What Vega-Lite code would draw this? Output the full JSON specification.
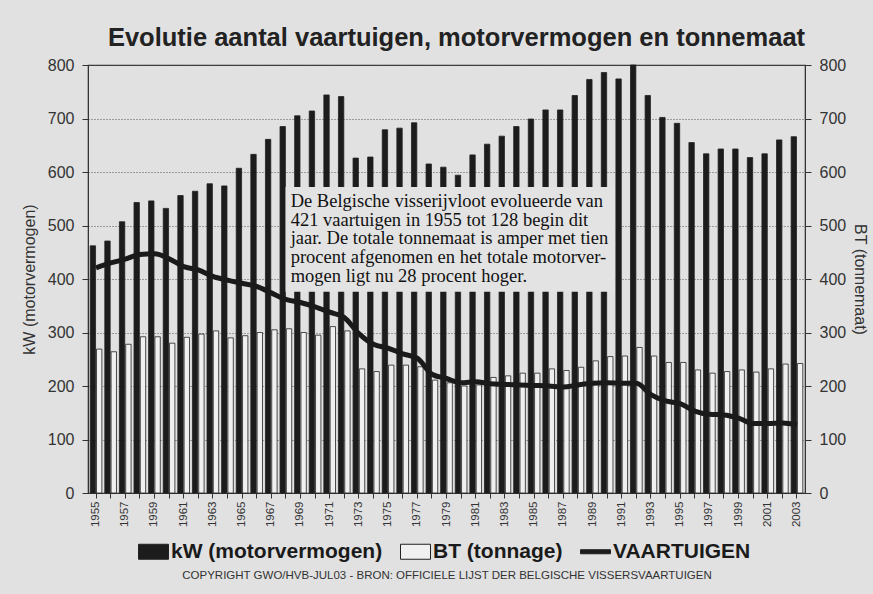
{
  "$schema": "https://vega.github.io/schema/vega-lite/v6.json",
  "autosize": {"type": "none"},
  "padding": {"left": 88, "top": 65, "right": 68, "bottom": 101},
  "width": 717,
  "height": 428,
  "background": "#e1e1e1",
  "title": {
    "text": "Evolutie aantal vaartuigen, motorvermogen en tonnemaat",
    "font": "Liberation Sans",
    "fontSize": 25.5,
    "fontWeight": "bold",
    "color": "#222222",
    "anchor": "middle",
    "offset": 6,
    "dx": 10
  },
  "config": {
    "view": {"stroke": "#333333", "strokeWidth": 1.2},
    "font": "Liberation Sans",
    "legend": {"layout": {"bottom": {"anchor": "middle"}}}
  },
  "datasets": {
    "fleet": [
      {"year": 1955, "kW": 462, "BT": 269, "vessels": 421},
      {"year": 1956, "kW": 471, "BT": 264, "vessels": 430},
      {"year": 1957, "kW": 507, "BT": 278, "vessels": 437},
      {"year": 1958, "kW": 543, "BT": 292, "vessels": 446},
      {"year": 1959, "kW": 546, "BT": 292, "vessels": 447},
      {"year": 1960, "kW": 532, "BT": 280, "vessels": 438},
      {"year": 1961, "kW": 556, "BT": 291, "vessels": 423},
      {"year": 1962, "kW": 564, "BT": 297, "vessels": 417},
      {"year": 1963, "kW": 578, "BT": 303, "vessels": 405},
      {"year": 1964, "kW": 574, "BT": 290, "vessels": 398},
      {"year": 1965, "kW": 607, "BT": 294, "vessels": 392},
      {"year": 1966, "kW": 633, "BT": 300, "vessels": 386},
      {"year": 1967, "kW": 661, "BT": 305, "vessels": 374},
      {"year": 1968, "kW": 685, "BT": 307, "vessels": 362},
      {"year": 1969, "kW": 705, "BT": 300, "vessels": 356},
      {"year": 1970, "kW": 714, "BT": 295, "vessels": 348},
      {"year": 1971, "kW": 744, "BT": 311, "vessels": 338},
      {"year": 1972, "kW": 741, "BT": 303, "vessels": 328},
      {"year": 1973, "kW": 626, "BT": 232, "vessels": 298},
      {"year": 1974, "kW": 628, "BT": 227, "vessels": 278},
      {"year": 1975, "kW": 679, "BT": 239, "vessels": 271},
      {"year": 1976, "kW": 682, "BT": 239, "vessels": 260},
      {"year": 1977, "kW": 692, "BT": 236, "vessels": 252},
      {"year": 1978, "kW": 615, "BT": 211, "vessels": 222},
      {"year": 1979, "kW": 609, "BT": 206, "vessels": 214},
      {"year": 1980, "kW": 594, "BT": 200, "vessels": 206},
      {"year": 1981, "kW": 632, "BT": 202, "vessels": 208},
      {"year": 1982, "kW": 652, "BT": 216, "vessels": 204},
      {"year": 1983, "kW": 667, "BT": 219, "vessels": 203},
      {"year": 1984, "kW": 685, "BT": 224, "vessels": 202},
      {"year": 1985, "kW": 699, "BT": 224, "vessels": 201},
      {"year": 1986, "kW": 716, "BT": 232, "vessels": 200},
      {"year": 1987, "kW": 716, "BT": 229, "vessels": 198},
      {"year": 1988, "kW": 743, "BT": 235, "vessels": 202},
      {"year": 1989, "kW": 773, "BT": 247, "vessels": 205},
      {"year": 1990, "kW": 786, "BT": 255, "vessels": 206},
      {"year": 1991, "kW": 774, "BT": 256, "vessels": 205},
      {"year": 1992, "kW": 800, "BT": 272, "vessels": 205},
      {"year": 1993, "kW": 743, "BT": 256, "vessels": 184},
      {"year": 1994, "kW": 702, "BT": 244, "vessels": 172},
      {"year": 1995, "kW": 691, "BT": 244, "vessels": 167},
      {"year": 1996, "kW": 655, "BT": 230, "vessels": 153},
      {"year": 1997, "kW": 634, "BT": 224, "vessels": 147},
      {"year": 1998, "kW": 643, "BT": 227, "vessels": 146},
      {"year": 1999, "kW": 643, "BT": 230, "vessels": 140},
      {"year": 2000, "kW": 627, "BT": 226, "vessels": 130},
      {"year": 2001, "kW": 634, "BT": 232, "vessels": 130},
      {"year": 2002, "kW": 660, "BT": 241, "vessels": 131},
      {"year": 2003, "kW": 666, "BT": 242, "vessels": 128}
    ],
    "note": [
      {"x0": 13.5, "x1": 36.0, "y0": 376, "y1": 572, "tx": 13.85, "ty": 563,
       "text": ["De Belgische visserijvloot evolueerde van", "421 vaartuigen in 1955 tot 128 begin dit", "jaar. De totale tonnemaat is amper met tien", "procent afgenomen en het totale motorver-", "mogen ligt nu 28 procent hoger."]}
    ]
  },
  "layer": [
    {
      "data": {"name": "fleet"},
      "transform": [{"fold": ["kW", "BT"], "as": ["series", "value"]}],
      "mark": {"type": "bar", "stroke": "#222222", "strokeWidth": 0.8},
      "encoding": {
        "x": {
          "field": "year",
          "type": "ordinal",
          "scale": {"type": "band", "paddingInner": 0.2, "paddingOuter": 0.15},
          "axis": {
            "title": null,
            "labelAngle": -90,
            "labelFontSize": 11.5,
            "labelColor": "#333333",
            "labelPadding": 3,
            "tickSize": 5,
            "tickColor": "#333333",
            "domainColor": "#333333",
            "labelExpr": "datum.value % 2 == 1 ? datum.label : ''",
            "grid": false
          }
        },
        "xOffset": {"field": "series", "scale": {"domain": ["kW", "BT"], "paddingInner": 0.15}},
        "y": {
          "field": "value",
          "type": "quantitative",
          "scale": {"domain": [0, 800]},
          "axis": {
            "title": "kW (motorvermogen)",
            "titleFontSize": 16,
            "titleFontWeight": "normal",
            "titleColor": "#333333",
            "titlePadding": 10,
            "labelFontSize": 16,
            "labelColor": "#333333",
            "labelPadding": 8,
            "tickSize": 6,
            "tickColor": "#333333",
            "domainColor": "#333333",
            "values": [0, 100, 200, 300, 400, 500, 600, 700, 800],
            "grid": true,
            "gridDash": [1, 2],
            "gridColor": "#555555",
            "gridWidth": 1
          }
        },
        "fill": {
          "field": "series",
          "type": "nominal",
          "scale": {"domain": ["kW", "BT", "VAARTUIGEN"], "range": ["#1c1c1c", "#f0f0f0", "#1c1c1c"]},
          "legend": {
            "orient": "bottom",
            "direction": "horizontal",
            "title": "COPYRIGHT GWO/HVB-JUL03  -  BRON: OFFICIELE LIJST DER BELGISCHE VISSERSVAARTUIGEN",
            "titleOrient": "bottom",
            "titleAnchor": "middle",
            "titleFontSize": 11.5,
            "titleFontWeight": "normal",
            "titleColor": "#333333",
            "titlePadding": 8,
            "titleLimit": 1000,
            "labelFontSize": 21,
            "labelFontWeight": "bold",
            "labelColor": "#1a1a1a",
            "labelLimit": 400,
            "labelExpr": "datum.value == 'kW' ? 'kW (motorvermogen)' : datum.value == 'BT' ? 'BT (tonnage)' : 'VAARTUIGEN'",
            "symbolSize": 225,
            "symbolStrokeColor": "#222222",
            "symbolStrokeWidth": 1,
            "symbolOpacity": 1,
            "offset": 14,
            "columnPadding": 15,
            "labelOffset": 7,
            "encode": {
              "symbols": {
                "update": {
                  "shape": {"signal": "datum.value === 'VAARTUIGEN' ? 'M-2,-0.27H2V0.27H-2Z' : 'M-2,-1H2V1H-2Z'"}
                }
              }
            }
          }
        }
      }
    },
    {
      "data": {"name": "fleet"},
      "mark": {"type": "line", "color": "#1a1a1a", "strokeWidth": 5, "interpolate": "monotone"},
      "encoding": {
        "x": {
          "field": "year",
          "type": "ordinal",
          "scale": {"type": "band", "paddingInner": 0.2, "paddingOuter": 0.15},
          "axis": null
        },
        "y": {
          "field": "vessels",
          "type": "quantitative",
          "scale": {"domain": [0, 800]},
          "axis": {
            "orient": "right",
            "title": "BT (tonnemaat)",
            "titleFontSize": 16,
            "titleFontWeight": "normal",
            "titleColor": "#333333",
            "titlePadding": 6,
            "labelFontSize": 16,
            "labelColor": "#333333",
            "labelPadding": 8,
            "tickSize": 6,
            "tickColor": "#333333",
            "domainColor": "#333333",
            "values": [0, 100, 200, 300, 400, 500, 600, 700, 800],
            "grid": false
          }
        }
      }
    },
    {
      "data": {"name": "note"},
      "mark": {"type": "rect", "fill": "#e3e3e3", "stroke": null},
      "encoding": {
        "x": {"field": "x0", "type": "quantitative", "scale": {"domain": [0, 49], "nice": false, "zero": false}, "axis": null},
        "x2": {"field": "x1"},
        "y": {"field": "y0", "type": "quantitative", "scale": {"domain": [0, 800]}, "axis": null},
        "y2": {"field": "y1"}
      }
    },
    {
      "data": {"name": "note"},
      "mark": {"type": "text", "font": "Liberation Serif", "fontSize": 18.5, "align": "left", "baseline": "top", "lineHeight": 18.8, "color": "#111111"},
      "encoding": {
        "x": {"field": "tx", "type": "quantitative", "scale": {"domain": [0, 49], "nice": false, "zero": false}, "axis": null},
        "y": {"field": "ty", "type": "quantitative", "scale": {"domain": [0, 800]}, "axis": null},
        "text": {"field": "text"}
      }
    }
  ],
  "resolve": {"scale": {"x": "independent", "y": "independent", "fill": "independent"}}
}
